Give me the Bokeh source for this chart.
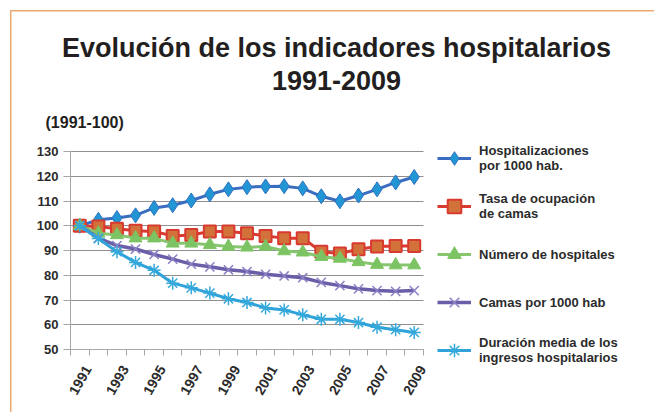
from bokeh.plotting import figure
from bokeh.models import Legend, LegendItem, FixedTicker, Label, Grid
from bokeh.core.properties import value
from bokeh.embed import file_html
from bokeh.resources import INLINE

years = list(range(1991, 2010))
label_years = list(range(1991, 2010, 2))
hospitalizaciones = [100, 102.4, 103.1, 104.2, 107.2, 108.3, 110.2, 112.7, 114.7, 115.6,
                     115.9, 116.0, 115.1, 111.9, 109.9, 112.2, 114.7, 117.5, 119.7]
ocupacion = [100, 99.7, 98.8, 98.0, 97.7, 95.9, 96.3, 97.7, 97.7, 97.0,
             95.9, 95.0, 95.0, 89.5, 88.8, 90.5, 91.6, 91.8, 91.8]
hospitales = [100, 97.0, 96.3, 95.0, 95.0, 92.9, 92.9, 92.3, 91.6, 91.3,
              91.6, 89.8, 89.3, 87.5, 86.8, 85.4, 84.3, 84.1, 84.1]
camas = [100, 95.0, 92.0, 90.6, 88.4, 86.5, 84.5, 83.4, 82.2, 81.5,
         80.4, 79.7, 79.0, 77.1, 75.8, 74.5, 73.8, 73.5, 73.8]
duracion = [100, 94.8, 89.5, 85.2, 82.0, 76.8, 74.9, 72.8, 70.5, 69.0,
            66.8, 66.0, 64.0, 62.2, 62.2, 60.9, 59.0, 58.0, 56.9]
y_ticks = [50, 60, 70, 80, 90, 100, 110, 120, 130]

names = ["Hospitalizaciones\npor 1000 hab.", "Tasa de ocupación\nde camas",
         "Número de hospitales", "Camas por 1000 hab",
         "Duración media de los\ningresos hospitalarios"]

FONT = "Liberation Sans"
ORANGE = "#EBAA74"
GRAY = "#a6a6a6"
TXT = "#2b2b2b"

W, H = 654, 412
# canvas frame (whole picture except thin axis strips)
CL, CB = 28, 12
FRL, FRB = CL, H - CB
# chart area in page pixels
AL, AT, AR, AB = 70, 151, 423, 349
x0, x1 = years[0] - 0.5, years[-1] + 0.5
y0, y1 = y_ticks[0], y_ticks[-1]
sx = (AR - AL) / (x1 - x0)
sy = (AB - AT) / (y1 - y0)
x_range = (x0 - (AL - FRL) / sx, x1 + (W - AR) / sx)
y_range = (y0 - (FRB - AB) / sy, y1 + AT / sy)

p = figure(width=W, height=H, output_backend="svg", toolbar_location=None,
           x_range=x_range, y_range=y_range,
           min_border_left=CL, min_border_right=0, min_border_top=0, min_border_bottom=CB)
p.outline_line_color = None
p.background_fill_color = None
p.border_fill_color = None
p.styles = {
    "background": (f"linear-gradient({ORANGE},{ORANGE}) 10px 10px / 100% 1.5px no-repeat, "
                   f"linear-gradient({ORANGE},{ORANGE}) 10px 10px / 1.5px 100% no-repeat, white"),
}

# x axis (line and category separators); its year labels are drawn as text below
p.xaxis.fixed_location = y0
p.xaxis.bounds = (x0, x1)
p.xaxis.ticker = FixedTicker(ticks=[], minor_ticks=[y - 0.5 for y in years] + [x1])
p.xaxis.major_tick_out = 0
p.xaxis.major_tick_in = 0
p.xaxis.minor_tick_out = 6
p.xaxis.minor_tick_in = 0
p.xaxis.minor_tick_line_color = GRAY
p.xaxis.axis_line_color = GRAY
p.xaxis.major_label_standoff = 0

# y axis (line and ticks); its value labels are drawn as text beside it
p.yaxis.fixed_location = x0
p.yaxis.bounds = (y0, y1)
p.yaxis.ticker = FixedTicker(ticks=[], minor_ticks=y_ticks)
p.yaxis.major_tick_out = 0
p.yaxis.major_tick_in = 0
p.yaxis.minor_tick_out = 7
p.yaxis.minor_tick_in = 0
p.yaxis.minor_tick_line_color = GRAY
p.yaxis.axis_line_color = GRAY
p.yaxis.major_label_standoff = 0

p.text(x=[x0] * len(y_ticks), y=y_ticks, text=[str(v) for v in y_ticks],
       x_offset=-12, text_align="right", text_baseline="middle",
       text_font=value(FONT), text_font_style="bold", text_font_size="13px", text_color=TXT)
p.text(x=label_years, y=[y0] * len(label_years), text=[str(v) for v in label_years],
       x_offset=8, y_offset=17, angle=1.05, text_align="right", text_baseline="middle",
       text_font=value(FONT), text_font_style="bold", text_font_size="14px", text_color=TXT)

# grid
p.xgrid.grid_line_color = None
if "cross_bounds" in Grid.properties():
    p.ygrid.ticker = FixedTicker(ticks=y_ticks)
    p.ygrid.bounds = (y0, y1)
    p.ygrid.cross_bounds = (x0, x1)
    p.ygrid.grid_line_color = "#8f8f8f"
    p.ygrid.grid_line_width = 1
else:
    p.ygrid.grid_line_color = None
    p.segment(x0=[x0] * len(y_ticks), x1=[x1] * len(y_ticks), y0=y_ticks, y1=y_ticks,
              line_color="#8f8f8f", line_width=1, level="underlay")

series = [
    (hospitalizaciones, "#3A6DC0", 3, dict(marker="diamond", size=15, fill_color="#2296D4", line_color="#2F72C2")),
    (ocupacion, "#D93A30", 3, dict(marker="square", size=12, fill_color="#D2713A", line_color="#D93A30", line_width=2)),
    (hospitales, "#88C56F", 3, dict(marker="triangle", size=13, fill_color="#7CC463", line_color="#7CC463")),
    (camas, "#6A5EA8", 3.5, dict(marker="x", size=13, line_color="#8C80C4", line_width=1.5)),
    (duracion, "#2FA3D9", 3, dict(marker="asterisk", size=13, line_color="#35A8DC", line_width=1.5)),
]

items = []
for (vals, col, lw, mk), name in zip(series, names):
    r1 = p.line(years, vals, line_color=col, line_width=lw)
    r2 = p.scatter(years, vals, **mk)
    items.append(LegendItem(label=name, renderers=[r1, r2]))

LEG_TOP, ITEM_H, GAP = 141, 34, 14
leg_bottom = LEG_TOP + 5 * ITEM_H + 4 * GAP
legend = Legend(items=items, location=(437 - FRL, FRB - leg_bottom), orientation="vertical")
legend.border_line_color = None
legend.background_fill_alpha = 0
legend.padding = 0
legend.margin = 0
legend.spacing = GAP
legend.glyph_width = 34
legend.glyph_height = ITEM_H
legend.label_height = ITEM_H
legend.label_standoff = 8
legend.label_text_font = FONT
legend.label_text_font_style = "bold"
legend.label_text_font_size = "13px"
legend.label_text_color = TXT
legend.label_text_line_height = 1.2
p.add_layout(legend, "center")

# titles (screen units: relative to the frame, y up from its bottom)
def add_label(text, px, py, size, align):
    p.add_layout(Label(x=px - FRL, y=FRB - py, x_units="screen", y_units="screen", text=text,
                       text_font=FONT, text_font_style="bold", text_font_size=size,
                       text_color="#231f20", text_align=align, text_baseline="middle"))

add_label("Evolución de los indicadores hospitalarios", 336, 47, "27px", "center")
add_label("1991-2009", 336, 80, "27px", "center")
add_label("(1991-100)", 45, 122, "16px", "left")

open("out.html", "w").write(file_html(p, INLINE))
